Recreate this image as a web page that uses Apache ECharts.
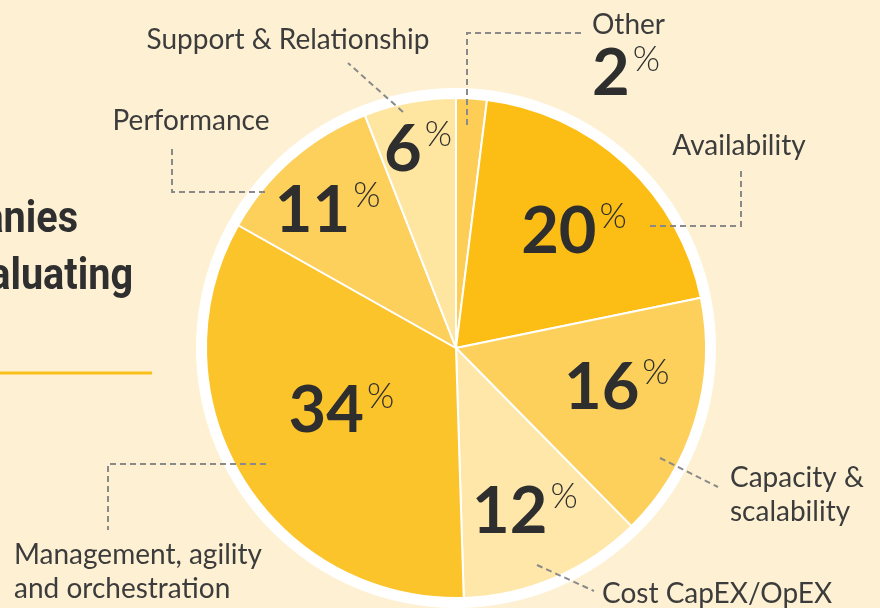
<!DOCTYPE html>
<html>
<head>
<meta charset="utf-8">
<script src="https://cdn.jsdelivr.net/npm/echarts@6/dist/echarts.min.js"></script>
<style>
  html, body { margin: 0; padding: 0; background: #FEF1D3; }
  #main { width: 880px; height: 608px; }
</style>
</head>
<body>
<div id="main"></div>
<script>
// slices, clockwise from 12 o'clock
var categories = ['Other', 'Availability', 'Capacity & scalability', 'Cost CapEX/OpEX',
  'Management, agility and orchestration', 'Performance', 'Support & Relationship'];
var shares = [2, 20, 16, 12, 34, 11, 6];
var labelTexts = ['Other', 'Availability', 'Capacity &\nscalability', 'Cost CapEX/OpEX',
  'Management, agility\nand orchestration', 'Performance', 'Support & Relationship'];
var sliceColors = ['#FDCD55', '#FCBE14', '#FDD05C', '#FEE7A8', '#FCC42B', '#FDD05C', '#FEE5A0'];

var CX = 456, CY = 348, R = 250;
var numR = [0, 0.67, 0.66, 0.70, 0.518, 0.76, 0.82]; // where the % sits along the radius
var numNudge = [0, 2, -4, 0, 3.4, -1.5, 0];           // small angular shift, degrees
// name labels and their dashed leaders
var nameLayout = [
  {x: 592, y: 8, align: 'left', va: 'top', line: [[467, 125], [467, 33], [582, 33]]},
  {x: 739, y: 146, align: 'center', va: 'middle', line: [[650, 226], [741, 226], [741, 170]]},
  {x: 730, y: 461, align: 'left', va: 'top', line: [[660, 458], [718, 487]]},
  {x: 602, y: 594, align: 'left', va: 'middle', line: [[537, 565], [594, 591]]},
  {x: 14, y: 538, align: 'left', va: 'top', line: [[266, 464], [108, 464], [108, 530]]},
  {x: 191, y: 121, align: 'center', va: 'middle', line: [[265, 192], [172, 192], [172, 145]]},
  {x: 288, y: 40, align: 'center', va: 'middle', line: [[403, 112], [348, 63]]}
];

var total = 0;
for (var i = 0; i < shares.length; i++) total += shares[i];
function midAngle(idx) {
  var before = 0;
  for (var k = 0; k < idx; k++) before += shares[k];
  return (before + shares[idx] / 2) / total * Math.PI * 2 + numNudge[idx] * Math.PI / 180;
}

var numRich = {
  n: {fontFamily: 'Lato', fontSize: 65, fontWeight: 'bold', color: '#2e2e2e'},
  p: {fontFamily: 'Lato', fontSize: 35, fontWeight: 300, color: '#2e2e2e', verticalAlign: 'top', padding: [0, 0, 0, 3]},
  t: {fontFamily: 'Lato', fontSize: 28, color: '#3c3c3c', lineHeight: 34}
};

var titleFont = 'bold 44px Roboto, "Liberation Sans", sans-serif';

var chart = echarts.init(document.getElementById('main'));

var option = {
  backgroundColor: '#FEF1D3',
  animation: false,
  graphic: [
    {type: 'text', x: 78, y: 243, scaleX: 0.9,
      style: {x: 0, y: 0, text: 'companies', align: 'right', verticalAlign: 'bottom', font: titleFont, fill: '#2f2f2f'}},
    {type: 'text', x: 133, y: 300, scaleX: 0.9,
      style: {x: 0, y: 0, text: 'evaluating', align: 'right', verticalAlign: 'bottom', font: titleFont, fill: '#2f2f2f'}},
    {type: 'line', shape: {x1: 0, y1: 373, x2: 152, y2: 373}, style: {stroke: '#FBBF1A', lineWidth: 3}}
  ],
  series: [
    {
      // white rim round the pie
      type: 'pie', silent: true, center: [CX, CY], radius: [0, R + 10],
      label: {show: false}, labelLine: {show: false},
      itemStyle: {color: '#ffffff'},
      data: [{value: 1, name: 'rim'}]
    },
    {
      type: 'pie', center: [CX, CY], radius: [0, R], startAngle: 90, clockwise: true,
      avoidLabelOverlap: false, silent: true,
      itemStyle: {borderColor: '#ffffff', borderWidth: 2},
      label: {
        show: true, position: 'inside',
        formatter: function (p) { return '{n|' + p.value + '}{p|%}'; },
        rich: numRich
      },
      labelLine: {show: false},
      labelLayout: function (p) {
        var a = midAngle(p.dataIndex), r = R * numR[p.dataIndex];
        return {x: CX + r * Math.sin(a), y: CY - r * Math.cos(a) + 3, align: 'center', verticalAlign: 'middle'};
      },
      data: categories.map(function (c, i) {
        var d = {name: c, value: shares[i], itemStyle: {color: sliceColors[i]}};
        if (i === 0) d.label = {show: false};
        return d;
      })
    },
    {
      // invisible copy carrying the names and leader lines
      type: 'pie', center: [CX, CY], radius: [0, R], startAngle: 90, clockwise: true,
      avoidLabelOverlap: false, silent: true, z: 3,
      itemStyle: {color: 'rgba(0,0,0,0)'},
      label: {
        show: true, position: 'outside',
        formatter: function (p) {
          if (p.dataIndex === 0) return '{t|' + labelTexts[0] + '}\n{n|' + p.value + '}{p|%}';
          return labelTexts[p.dataIndex].split('\n').map(function (s) { return '{t|' + s + '}'; }).join('\n');
        },
        rich: numRich
      },
      labelLine: {show: true, lineStyle: {color: '#8a8a8a', width: 2, type: [6, 4]}},
      labelLayout: function (p) {
        var L = nameLayout[p.dataIndex];
        return {x: L.x, y: L.y, align: L.align, verticalAlign: L.va, labelLinePoints: L.line};
      },
      data: categories.map(function (c, i) { return {name: c, value: shares[i]}; })
    }
  ]
};

chart.setOption(option);
</script>
</body>
</html>
